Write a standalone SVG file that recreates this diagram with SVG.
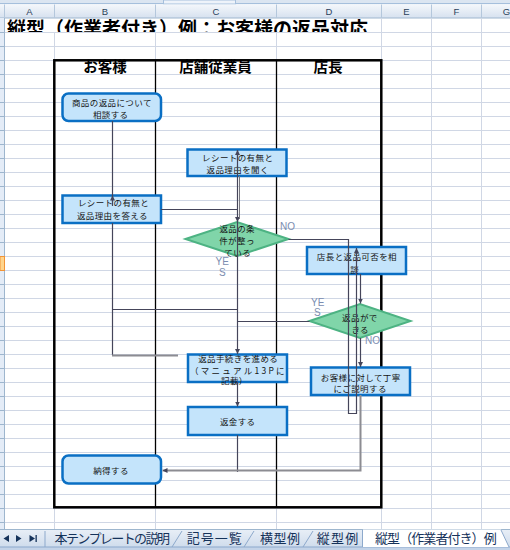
<svg xmlns="http://www.w3.org/2000/svg" width="510" height="550" viewBox="0 0 510 550">
<defs>
<style>
.grid{stroke:#d0d7e5;stroke-width:1;fill:none}
.hdr{font-family:"Liberation Sans",Arial,sans-serif;font-size:9.5px;fill:#2a3f5a;text-anchor:middle}
.lane{font-family:"Noto Sans CJK JP",sans-serif;font-size:14.5px;font-weight:bold;fill:#000;text-anchor:middle}
.box{fill:#c4e4fb;stroke:#0a6fc4;stroke-width:2.5}
.dia{fill:#80d5a9;stroke:#4db383;stroke-width:2}
.t{font-family:"Noto Sans CJK JP",sans-serif;font-size:8.5px;letter-spacing:0.4px;fill:#141414;text-anchor:middle}
.lbl{font-family:"Liberation Sans",Arial,sans-serif;font-size:10px;fill:#7b8db0}
.c{fill:none;stroke:#45455a;stroke-width:1.2}
.cg{fill:none;stroke:#8c8c92;stroke-width:2}
.tab{font-family:"Noto Sans CJK JP",sans-serif;font-size:13px;fill:#15325a}
</style>
<marker id="ah" markerUnits="userSpaceOnUse" markerWidth="5" markerHeight="5" refX="5" refY="2.5" orient="auto">
<path d="M0,0 L5,2.5 L0,5 z" fill="#45455a"/>
</marker>
<linearGradient id="hg" x1="0" y1="0" x2="0" y2="1">
<stop offset="0" stop-color="#f4f7fb"/>
<stop offset="1" stop-color="#d6e1ef"/>
</linearGradient>
<linearGradient id="tg" x1="0" y1="0" x2="0" y2="1">
<stop offset="0" stop-color="#e9eff7"/>
<stop offset="1" stop-color="#cfdcec"/>
</linearGradient>
<clipPath id="titleclip"><rect x="0" y="18.5" width="510" height="13.5"/></clipPath>
</defs>

<rect x="0" y="0" width="510" height="550" fill="#ffffff"/>

<!-- top strip & column header -->
<rect x="0" y="0" width="510" height="4.5" fill="#dbe5f1"/>
<line x1="0" y1="3.5" x2="510" y2="3.5" stroke="#a5bfdc"/>
<rect x="163.5" y="0" width="72" height="4" fill="#eef3fa" stroke="#a5bfdc"/>
<rect x="0" y="4.5" width="510" height="13.5" fill="url(#hg)"/>
<line x1="0" y1="18" x2="510" y2="18" stroke="#9eb6ce"/>
<path d="M4.5 4.5 V18 M54.5 4.5 V18 M155.5 4.5 V18 M276.5 4.5 V18 M381.5 4.5 V18 M431.5 4.5 V18 M481.5 4.5 V18" stroke="#b4c7dc" fill="none"/>
<g class="hdr">
<text x="29.5" y="15">A</text>
<text x="105" y="15">B</text>
<text x="216" y="15">C</text>
<text x="329" y="15">D</text>
<text x="406.5" y="15">E</text>
<text x="456.5" y="15">F</text>
<text x="506.5" y="15">G</text>
</g>

<!-- grid -->
<path class="grid" d="M5 32.5H510 M5 46.5H510 M5 60.5H510 M5 74.5H510 M5 88.5H510 M5 102.5H510 M5 116.5H510 M5 130.5H510 M5 144.5H510 M5 158.5H510 M5 172.5H510 M5 186.5H510 M5 200.5H510 M5 214.5H510 M5 228.5H510 M5 242.5H510 M5 256.5H510 M5 270.5H510 M5 284.5H510 M5 298.5H510 M5 312.5H510 M5 326.5H510 M5 340.5H510 M5 354.5H510 M5 368.5H510 M5 382.5H510 M5 396.5H510 M5 410.5H510 M5 424.5H510 M5 438.5H510 M5 452.5H510 M5 466.5H510 M5 480.5H510 M5 494.5H510 M5 508.5H510 M5 522.5H510"/>
<path class="grid" d="M54.5 32V529 M155.5 32V529 M276.5 32V529 M381.5 18V529 M431.5 18V529 M481.5 18V529"/>

<!-- row header -->
<rect x="0" y="18" width="4.5" height="511" fill="#e4ecf7"/>
<line x1="4.5" y1="18" x2="4.5" y2="529" stroke="#9eb6ce"/>
<path d="M0 32.5H4.5 M0 46.5H4.5 M0 60.5H4.5 M0 74.5H4.5 M0 88.5H4.5 M0 102.5H4.5 M0 116.5H4.5 M0 130.5H4.5 M0 144.5H4.5 M0 158.5H4.5 M0 172.5H4.5 M0 186.5H4.5 M0 200.5H4.5 M0 214.5H4.5 M0 228.5H4.5 M0 242.5H4.5 M0 270.5H4.5 M0 284.5H4.5 M0 298.5H4.5 M0 312.5H4.5 M0 326.5H4.5 M0 340.5H4.5 M0 354.5H4.5 M0 368.5H4.5 M0 382.5H4.5 M0 396.5H4.5 M0 410.5H4.5 M0 424.5H4.5 M0 438.5H4.5 M0 452.5H4.5 M0 466.5H4.5 M0 480.5H4.5 M0 494.5H4.5 M0 508.5H4.5 M0 522.5H4.5" stroke="#9eb6ce" fill="none"/>
<rect x="0" y="256.5" width="4.5" height="14" fill="#ffd58d" stroke="#f29436"/>

<!-- title -->
<text x="7" y="35.5" clip-path="url(#titleclip)" font-family="'Noto Sans CJK JP',sans-serif" font-size="19" font-weight="bold" textLength="361" fill="#000">縦型（作業者付き）例：お客様の返品対応</text>

<!-- swimlane table -->
<g id="lanes">
<rect x="54.3" y="60.3" width="327" height="447" fill="none" stroke="#000" stroke-width="2.5"/>
<path d="M155.5 60V507 M276.5 60V507" stroke="#000" stroke-width="1.3"/>
<text class="lane" x="105" y="71.5">お客様</text>
<text class="lane" x="215.5" y="71.5">店舗従業員</text>
<text class="lane" x="328" y="71.5">店長</text>
</g>

<!-- nodes -->
<g id="n1">
<rect class="box" x="62.5" y="93.5" width="98.5" height="27.5" rx="6"/>
<text class="t" x="111.9" y="105.5">商品の返品について</text>
<text class="t" x="110.7" y="118">相談する</text>
</g>
<g id="n2">
<rect class="box" x="187.5" y="149.5" width="99" height="26.5"/>
<text class="t" x="237.7" y="161">レシートの有無と</text>
<text class="t" x="237.7" y="172.5">返品理由を聞く</text>
</g>
<g id="n3">
<rect class="box" x="62.5" y="195.5" width="98.5" height="27.5"/>
<text class="t" x="113.5" y="205.5">レシートの有無と</text>
<text class="t" x="112.4" y="218.5">返品理由を答える</text>
</g>
<g id="d1">
<polygon class="dia" points="185.5,239 237,222 288.5,239 237,256"/>
<text class="t" x="237.2" y="232">返品の条</text>
<text class="t" x="237" y="244">件が整っ</text>
<text class="t" x="237.7" y="255.5">ている</text>
</g>
<g id="n4">
<rect class="box" x="307" y="247" width="99" height="27"/>
<text class="t" x="356.9" y="260">店長と返品可否を相</text>
<text class="t" x="354.7" y="273">談</text>
</g>
<g id="d2">
<polygon class="dia" points="309.5,321 360,304 410.5,321 360,338"/>
<text class="t" x="359.9" y="320.5">返品がで</text>
<text class="t" x="360.2" y="332.5">きる</text>
</g>
<g id="n5">
<rect class="box" x="188" y="354.5" width="99" height="27.5"/>
<text class="t" x="238.2" y="362">返品手続きを進める</text>
<text class="t" x="190" y="373.5" style="text-anchor:start" textLength="95">（マニュアル13Pに</text>
<text class="t" x="234.4" y="384">記載）</text>
</g>
<g id="n6">
<rect class="box" x="188" y="407" width="99" height="28"/>
<text class="t" x="237.7" y="425">返金する</text>
</g>
<g id="n7">
<rect class="box" x="311" y="367.5" width="99" height="27.5"/>
<text class="t" x="360.7" y="380.5">お客様に対して丁寧</text>
<text class="t" x="360.2" y="392">にご説明する</text>
</g>
<g id="n8">
<rect class="box" x="62.5" y="455.5" width="98.5" height="28" rx="6"/>
<text class="t" x="111" y="474">納得する</text>
</g>

<!-- connectors -->
<g id="connectors">
<path class="c" d="M112.5 121 V206"/>
<path class="c" d="M112.5 202 V195.5" marker-end="url(#ah)"/>
<path class="c" d="M112.5 223 V355"/>
<path class="cg" d="M112 355.5 H178"/>
<path class="c" d="M161 209.5 H237.5"/>
<path class="c" d="M112.5 309.5 H237.5"/>
<path class="c" d="M237.5 160 V150" marker-end="url(#ah)"/>
<path class="c" d="M237.5 150 V222" marker-end="url(#ah)"/>
<path d="M239.5 176 V219" stroke="#77777f" stroke-width="1" fill="none"/>
<path class="c" d="M237.5 222 V354" marker-end="url(#ah)"/>
<path class="c" d="M237.5 382 V406.5" marker-end="url(#ah)"/>
<path class="c" d="M237.5 435 V472"/>
<path class="c" d="M309.5 321.5 H237.5"/>
<path class="c" d="M288.5 239.5 H348.5 V413.5 H356.5 V248" marker-end="url(#ah)"/>
<path class="c" d="M360.5 274 V303.5" marker-end="url(#ah)"/>
<path class="c" d="M360.5 338 V367" marker-end="url(#ah)"/>
<path class="cg" d="M360.5 395 V470.5 H162.5" marker-end="url(#ah)"/>
</g>

<!-- branch labels -->
<g id="labels" class="lbl">
<text x="280" y="229.5">NO</text>
<text x="215.5" y="264.5">YE</text>
<text x="219" y="275.5">S</text>
<text x="311" y="305.5">YE</text>
<text x="314" y="316">S</text>
<text x="365" y="343.5">NO</text>
</g>

<!-- sheet tabs -->
<rect x="0" y="529" width="510" height="18" fill="url(#tg)"/>
<line x1="0" y1="529.5" x2="510" y2="529.5" stroke="#9eb6ce"/>
<rect x="0" y="547" width="510" height="3" fill="#c3d3e8"/>
<line x1="0" y1="547" x2="510" y2="547" stroke="#8da9cc"/>
<g fill="#15325a">
<polygon points="3.5,538.5 9,535 9,542"/>
<polygon points="21.5,538.5 16,535 16,542"/>
<polygon points="35,538.5 29.5,535 29.5,542"/>
<rect x="35.5" y="535" width="1.3" height="7"/>
</g>
<line x1="45" y1="531" x2="45" y2="547" stroke="#8da9cc"/>
<polygon points="363,529.5 501,529.5 509,547 363,547" fill="#ffffff"/>
<path d="M172 547 L182 531 M244 547 L254 531 M303 547 L313 531 M501 530 L509 547" stroke="#8da9cc" fill="none"/>
<line x1="362.5" y1="530" x2="362.5" y2="547" stroke="#8da9cc"/>
<text class="tab" x="54.5" y="543" textLength="115.5">本テンプレートの説明</text>
<text class="tab" x="186.7" y="543" textLength="55">記号一覧</text>
<text class="tab" x="260" y="543" textLength="40">横型例</text>
<text class="tab" x="316.7" y="543" textLength="41.6">縦型例</text>
<text class="tab" x="375" y="543" textLength="121.7">縦型（作業者付き）例</text>
</svg>
